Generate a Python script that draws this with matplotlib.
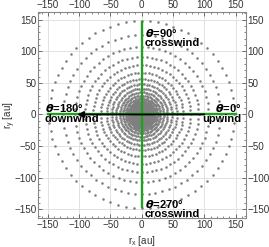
import numpy as np
import matplotlib.pyplot as plt

# ring radii (au), outer to inner
ring_r = [148, 126, 107, 91, 78, 66, 56, 48, 41, 35, 30, 25.5, 22, 19,
          17, 15.8, 14.7, 13.7, 12.7, 11.8, 10.9, 10.0, 9.2, 8.4, 7.6, 6.9,
          6.2, 5.5, 4.8, 4.2, 3.6, 3.0, 2.4, 1.8, 1.2, 0.6]
angle_step = 5  # degrees between points on a ring
ticks = [-150, -100, -50, 0, 50, 100, 150]

labels = [
    # text, x, y, ha, va
    (r"$\boldsymbol{\theta}$=90°" + "\ncrosswind", 5, 139, "left", "top"),
    (r"$\boldsymbol{\theta}$=270°" + "\ncrosswind", 5, -132, "left", "top"),
    (r"$\boldsymbol{\theta}$=180°" + "\ndownwind", -155, 19, "left", "top"),
    (r"$\boldsymbol{\theta}$=0°" + "\nupwind", 159, 19, "right", "top"),
]

plt.rcParams['font.family'] = ['Liberation Sans', 'DejaVu Sans']
plt.rcParams['mathtext.fontset'] = 'dejavusans'

fig = plt.figure(figsize=(2.69, 2.47), dpi=100)
ax = fig.add_axes([0.143, 0.117, 0.77, 0.834])

th = np.deg2rad(np.arange(0, 360, angle_step))
for r in ring_r:
    size = 3.4 if r > 18 else 5
    ax.scatter(r * np.cos(th), r * np.sin(th), s=size, c='#7f7f7f', lw=0, zorder=2)

green = '#1fa01f'
ax.plot([0, 0], [-147, 147], color=green, lw=1.7, zorder=3)
ax.plot([-150, 150], [0, 0], color=green, lw=1.7, zorder=3)
ax.annotate("", xy=(-103, 0), xytext=(100, 0),
            arrowprops=dict(arrowstyle='-|>', color='black', lw=1.3,
                            mutation_scale=9, shrinkA=0, shrinkB=0), zorder=4)

for txt, x, y, ha, va in labels:
    ax.text(x, y, txt, ha=ha, va=va, fontsize=8, fontweight='bold',
            linespacing=0.95, zorder=5)

ax.set_xlim(-165, 166)
ax.set_ylim(-164, 162)
ax.set_xticks(ticks)
ax.set_yticks(ticks)
ax.set_xticks(np.arange(-160, 161, 10), minor=True)
ax.set_yticks(np.arange(-160, 161, 10), minor=True)
ax.set_xticklabels([str(t).replace('-', '\u2212') for t in ticks])
ax.set_yticklabels([str(t).replace('-', '\u2212') for t in ticks])
ax.tick_params(which='both', direction='in', top=True, right=True,
               labeltop=True, labelright=True, labelsize=7.1, colors='#555555',
               labelcolor='#333333', pad=1.5)
ax.tick_params(which='major', length=3, width=0.6)
ax.tick_params(which='minor', length=1.5, width=0.5)
ax.grid(True, color='#dddddd', lw=0.6, zorder=0)
ax.set_axisbelow(True)
for s in ax.spines.values():
    s.set_color('#888888')
    s.set_linewidth(0.8)

ax.set_xlabel(r"r$_\mathregular{x}$ [au]", fontsize=7.1, color='#333333')
ax.set_ylabel(r"r$_\mathregular{y}$ [au]", fontsize=7.1, color='#333333')
ax.xaxis.set_label_coords(0.5, -0.075)
ax.yaxis.set_label_coords(-0.1, 0.5)

fig.savefig("out.png", dpi=100)
